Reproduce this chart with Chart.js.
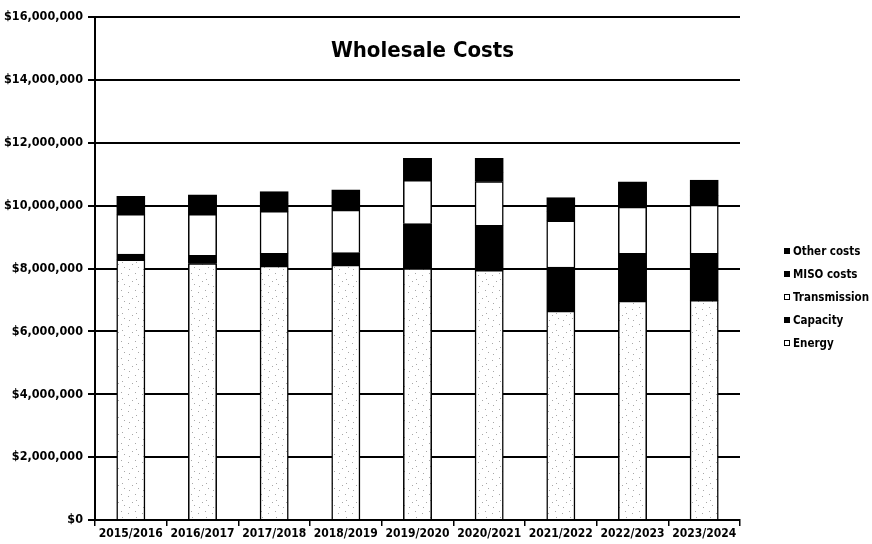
<!DOCTYPE html>
<html>
<head>
<meta charset="utf-8">
<script src="https://cdn.jsdelivr.net/npm/chart.js@4/dist/chart.umd.min.js"></script>
<style>
  html, body { margin: 0; padding: 0; background: #fff; }
  #wrap { position: relative; width: 872px; height: 544px; }
  #legend {
    position: absolute; left: 784px; top: 240px;
    font: bold 11.5px "DejaVu Sans Condensed", "DejaVu Sans", sans-serif;
    color: #000; line-height: 23px;
  }
  #legend .box {
    display: inline-block; width: 6px; height: 6px; margin-right: 3px;
    border: 1px solid #000; vertical-align: 1px; box-sizing: border-box;
  }
</style>
</head>
<body>
<div id="wrap">
  <canvas id="chart" width="872" height="544"></canvas>
  <div id="legend"></div>
</div>
<script>
// Werte in Dollar
const years = ["2015/2016", "2016/2017", "2017/2018", "2018/2019", "2019/2020",
               "2020/2021", "2021/2022", "2022/2023", "2023/2024"];
const energy       = [8270000, 8150000, 8070000, 8100000, 7990000, 7940000, 6640000, 6960000, 6980000];
const capacity     = [ 180000,  260000,  410000,  400000, 1430000, 1430000, 1400000, 1520000, 1500000];
const transmission = [1270000, 1310000, 1330000, 1350000, 1380000, 1390000, 1470000, 1470000, 1530000];
const misoCosts    = [ 220000,  240000,  240000,  250000,  270000,  290000,  290000,  310000,  310000];
const otherCosts   = [ 350000,  380000,  390000,  400000,  430000,  450000,  450000,  490000,  490000];
const yTicks = { min: 0, max: 16000000, step: 2000000 };

const FONT = "'DejaVu Sans Condensed', 'DejaVu Sans', sans-serif";

// gepunktetes Muster fuer Energy
function dotPattern() {
    const c = document.createElement("canvas");
    c.width = 14; c.height = 17;
    const g = c.getContext("2d");
    g.fillStyle = "#fff";
    g.fillRect(0, 0, 14, 17);
    g.fillStyle = "#a8a8a8";
    [[2, 3], [9, 1], [6, 9], [12, 12], [3, 14], [10, 7]].forEach(([x, y]) => g.fillRect(x, y, 1, 1));
    return g.createPattern(c, "repeat");
}

const datasets = [
    { label: "Energy", data: energy, backgroundColor: dotPattern(), legendFill: "#fff" },
    { label: "Capacity", data: capacity, backgroundColor: "#000", legendFill: "#000" },
    { label: "Transmission", data: transmission, backgroundColor: "#fff", legendFill: "#fff" },
    { label: "MISO costs", data: misoCosts, backgroundColor: "#000", legendFill: "#000" },
    { label: "Other costs", data: otherCosts, backgroundColor: "#000", legendFill: "#000" }
].map(d => ({
    ...d,
    borderColor: "#000",
    borderWidth: 1.5,
    inflateAmount: 0.5,
    barPercentage: 0.39,
    categoryPercentage: 1
}));

const titlePlugin = {
    id: "innerTitle",
    afterDraw(chart) {
        const ctx = chart.ctx;
        const a = chart.chartArea;
        ctx.save();
        ctx.fillStyle = "#000";
        ctx.font = "bold 22px " + FONT;
        ctx.textAlign = "center";
        ctx.textBaseline = "alphabetic";
        ctx.fillText("Wholesale Costs", (a.left + a.right) / 2 + 5, 57);
        ctx.restore();
    }
};

const chart = new Chart(document.getElementById("chart"), {
    type: "bar",
    data: { labels: years, datasets },
    options: {
        responsive: false,
        animation: false,
        layout: { padding: { top: 17, right: 132, left: 0, bottom: 0 } },
        plugins: {
            legend: { display: false },
            tooltip: { enabled: false }
        },
        scales: {
            x: {
                stacked: true,
                grid: { drawOnChartArea: false, color: "#000", lineWidth: 1.5, tickLength: 6 },
                border: { color: "#000", width: 2 },
                ticks: {
                    color: "#000", padding: 1, maxRotation: 0, autoSkip: false,
                    font: { family: FONT, size: 12, weight: "bold" }
                },
                afterFit(s) { s.height = 24; }
            },
            y: {
                stacked: true,
                min: yTicks.min,
                max: yTicks.max,
                grid: { color: "#000", lineWidth: 2, tickLength: 7 },
                border: { color: "#000", width: 2 },
                ticks: {
                    stepSize: yTicks.step,
                    color: "#000", padding: 5,
                    font: { family: FONT, size: 12.5, weight: "bold" },
                    callback: v => "$" + v.toLocaleString("en-US")
                },
                afterFit(s) { s.width = 95; }
            }
        }
    },
    plugins: [titlePlugin]
});

// Legende (umgekehrte Reihenfolge wie im Original)
const legend = document.getElementById("legend");
chart.data.datasets.slice().reverse().forEach(d => {
    const row = document.createElement("div");
    row.innerHTML = `<span class="box" style="background:${d.legendFill}"></span>${d.label}`;
    legend.appendChild(row);
});
</script>
</body>
</html>
